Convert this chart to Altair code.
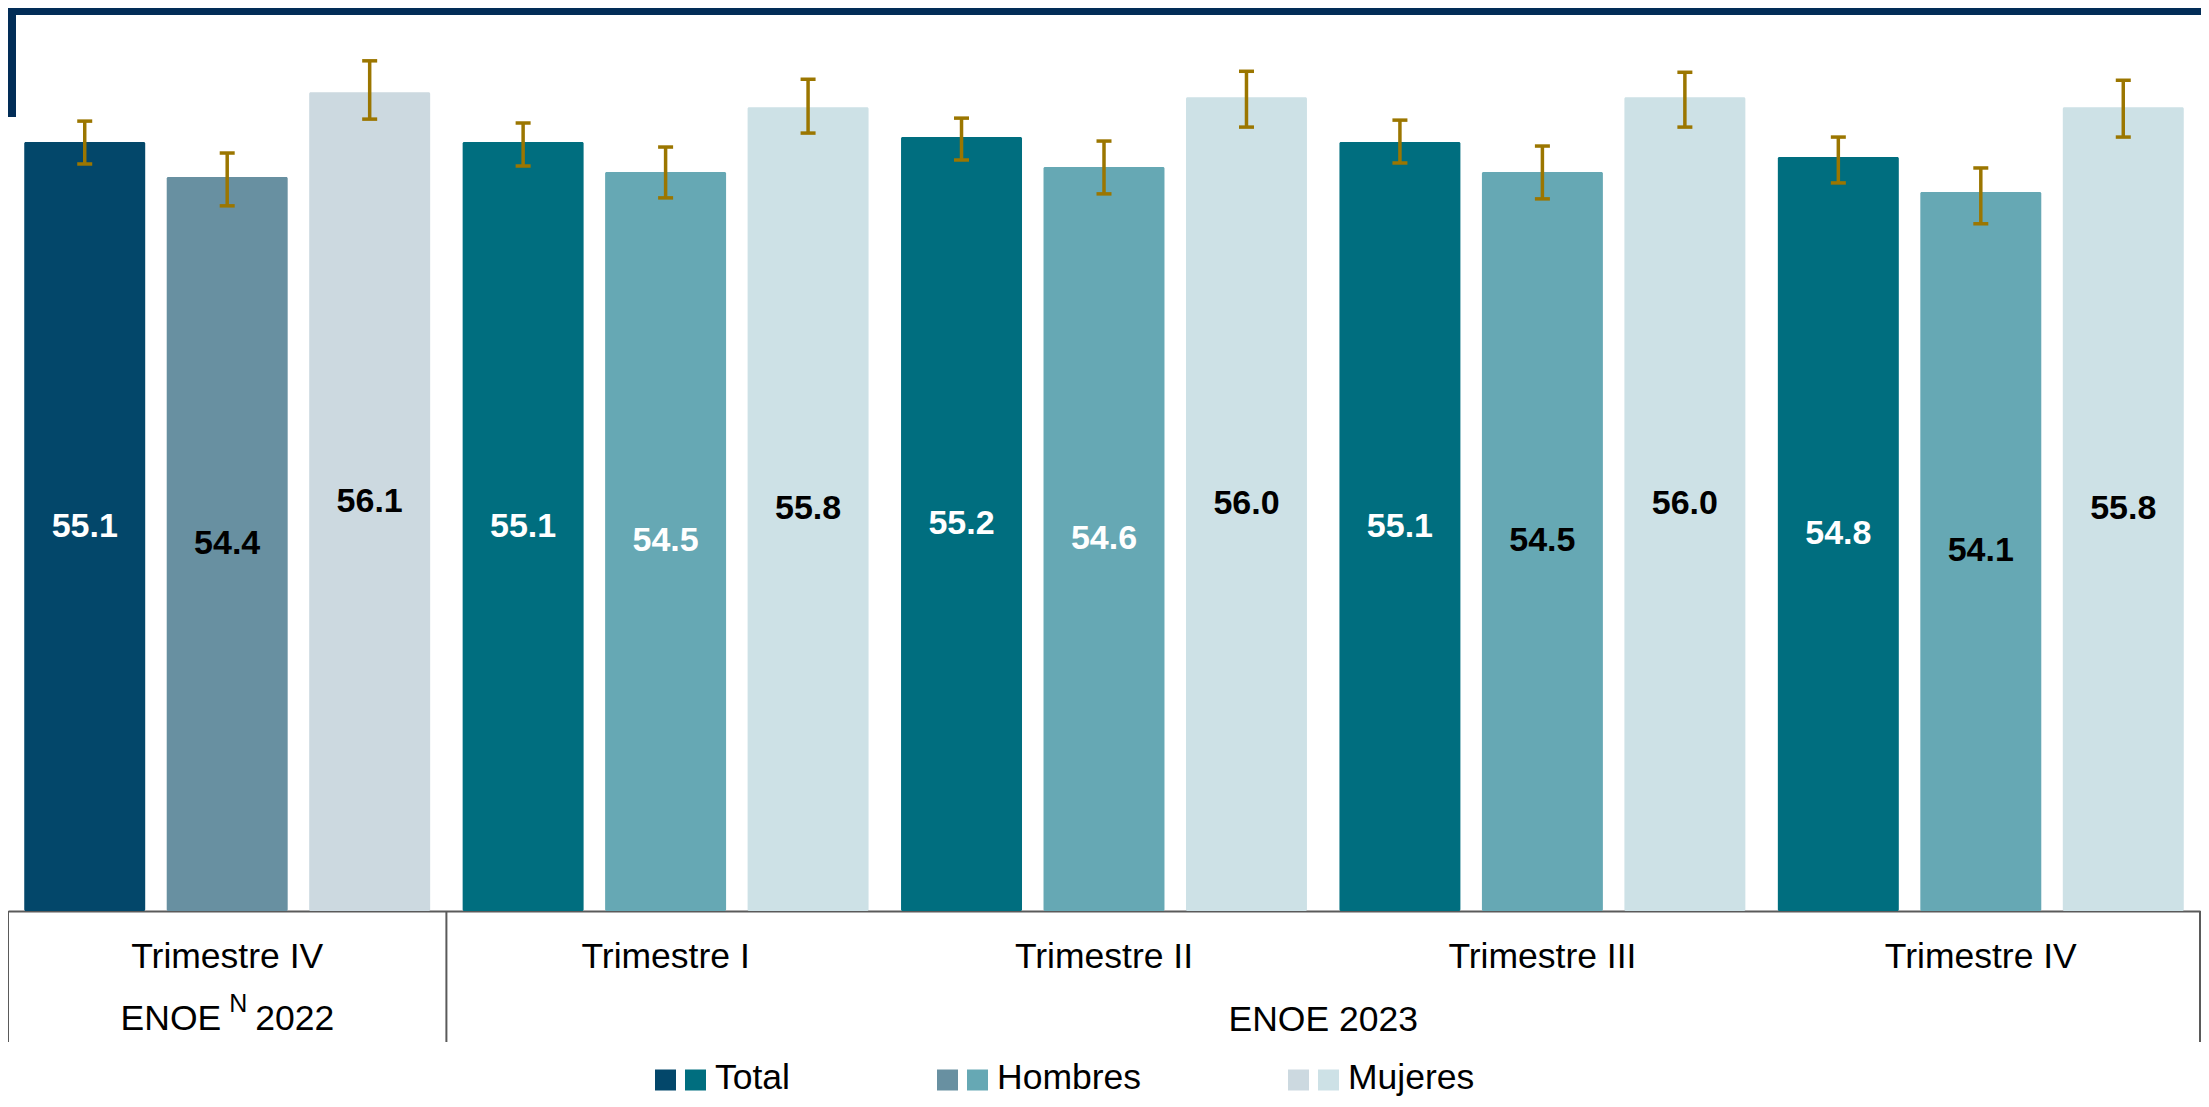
import altair as alt
import pandas as pd

# ---- data ----
groups = ["2022|Trimestre IV", "2023|Trimestre I", "2023|Trimestre II",
          "2023|Trimestre III", "2023|Trimestre IV"]
series = ["Total", "Hombres", "Mujeres"]

total = [55.1, 55.1, 55.2, 55.1, 54.8]
hombres = [54.4, 54.5, 54.6, 54.5, 54.1]
mujeres = [56.1, 55.8, 56.0, 56.0, 55.8]

total_lo = [54.66, 54.62, 54.74, 54.68, 54.28]
total_hi = [55.52, 55.48, 55.58, 55.54, 55.20]
hombres_lo = [53.82, 53.98, 54.06, 53.96, 53.46]
hombres_hi = [54.88, 55.00, 55.12, 55.02, 54.58]
mujeres_lo = [55.56, 55.28, 55.40, 55.40, 55.20]
mujeres_hi = [56.73, 56.36, 56.52, 56.50, 56.34]

# ---- styles ----
label_colors = {
    "Total": ["white", "white", "white", "white", "white"],
    "Hombres": ["black", "white", "white", "black", "black"],
    "Mujeres": ["black", "black", "black", "black", "black"],
}
color_keys = ["2022 Total", "2022 Hombres", "2022 Mujeres",
              "2023 Total", "2023 Hombres", "2023 Mujeres"]
color_vals = ["#03476A", "#6890A1", "#CCD9E0", "#006E7F", "#66A8B4", "#CDE1E6"]
ERR = "#9B7600"
LINE = "#5a5a5a"
NAVY = "#022D57"
FONT = "Liberation Sans"

BASE = 39.67
TOP = 57.79
W = 2192
H = 903

vals = {"Total": (total, total_lo, total_hi),
        "Hombres": (hombres, hombres_lo, hombres_hi),
        "Mujeres": (mujeres, mujeres_lo, mujeres_hi)}
rows = []
for i, g in enumerate(groups):
    year = g.split("|")[0]
    for s in series:
        v, lo, hi = vals[s]
        rows.append(dict(grp=g, ser=s, key=f"{year} {s}", v=v[i], lo=lo[i],
                         hi=hi[i], tc=label_colors[s][i]))
df = pd.DataFrame(rows)

xscale = alt.Scale(domain=groups, paddingInner=0, paddingOuter=0)
XAXIS = alt.Axis(title=None, labelExpr="split(datum.label, '|')[1]",
                 ticks=False, tickSize=0, labelPadding=56, labelLimit=600,
                 labelBaseline="alphabetic", labelFontSize=35.5,
                 labelFont=FONT, labelColor="black", labelAngle=0,
                 domainColor=LINE, domainWidth=2, grid=False)
xoff = alt.XOffset("ser:N", sort=series,
                   scale=alt.Scale(domain=series, paddingInner=0.151, paddingOuter=0.114))
yscale = alt.Scale(domain=[BASE, TOP], zero=False, nice=False)


def xg(**kw):
    return alt.X("grp:N", sort=groups, scale=xscale, axis=XAXIS, **kw)


base = alt.Chart(df)

bars = base.mark_bar(cornerRadius=1.5).encode(
    x=xg(),
    xOffset=xoff,
    y=alt.Y("v:Q", scale=yscale, axis=None),
    y2=alt.datum(BASE),
    color=alt.Color("key:N", scale=alt.Scale(domain=color_keys, range=color_vals), legend=None),
)

err = base.mark_rule(color=ERR, strokeWidth=3.5).encode(
    x=xg(), xOffset=xoff, y=alt.Y("lo:Q", scale=yscale, axis=None), y2="hi:Q")
cap_lo = base.mark_tick(color=ERR, thickness=3.5, size=15, opacity=1).encode(
    x=xg(), xOffset=xoff, y=alt.Y("lo:Q", scale=yscale, axis=None))
cap_hi = base.mark_tick(color=ERR, thickness=3.5, size=15, opacity=1).encode(
    x=xg(), xOffset=xoff, y=alt.Y("hi:Q", scale=yscale, axis=None))

labels = base.transform_calculate(mid=f"(datum.v + {BASE}) / 2").mark_text(
    font=FONT, fontSize=34, fontWeight="bold", baseline="middle", align="center"
).encode(
    x=xg(), xOffset=xoff, y=alt.Y("mid:Q", scale=yscale, axis=None),
    text=alt.Text("v:Q", format=".1f"),
    color=alt.Color("tc:N", scale=None),
)

# separators below the axis
sep_start = alt.Chart(pd.DataFrame({"grp": [groups[0], groups[1]]})).mark_rule(
    color=LINE, strokeWidth=2).encode(
    x=xg(bandPosition=0), y=alt.value(H), y2=alt.value(H + 131))
sep_end = alt.Chart(pd.DataFrame({"grp": [groups[4]]})).mark_rule(
    color=LINE, strokeWidth=2).encode(
    x=xg(bandPosition=1), y=alt.value(H), y2=alt.value(H + 131))

g0 = alt.Chart(pd.DataFrame({"grp": [groups[0]]}))
txt = dict(font=FONT, fontSize=35.5, color="black", baseline="alphabetic")
enoe22a = g0.mark_text(text="ENOE", align="right", dx=-6, **txt).encode(
    x=xg(), y=alt.value(H + 119))
enoe22n = g0.mark_text(text="N", align="left", dx=2, font=FONT, fontSize=25,
                       color="black", baseline="alphabetic").encode(
    x=xg(), y=alt.value(H + 101))
enoe22b = g0.mark_text(text="2022", align="left", dx=28, **txt).encode(
    x=xg(), y=alt.value(H + 119))
enoe23 = alt.Chart(pd.DataFrame({"grp": [groups[3]]})).mark_text(
    text="ENOE 2023", align="center", **txt).encode(
    x=xg(bandPosition=0), y=alt.value(H + 120))

# decorative frame in the corner
one = alt.Chart(pd.DataFrame({"a": [0]}))
band_top = one.mark_rect(color=NAVY).encode(
    x=alt.value(0), x2=alt.value(W + 1), y=alt.value(0), y2=alt.value(7))
band_left = one.mark_rect(color=NAVY).encode(
    x=alt.value(0), x2=alt.value(8), y=alt.value(0), y2=alt.value(109))

# custom legend
legend_items = [("Total", color_vals[0], color_vals[3], 657.5),
                ("Hombres", color_vals[1], color_vals[4], 939.5),
                ("Mujeres", color_vals[2], color_vals[5], 1290.5)]
leg_layers = []
LY = 1072
for name, c1, c2, x0 in legend_items:
    leg_layers.append(one.mark_square(size=441, opacity=1, color=c1).encode(
        x=alt.value(x0), y=alt.value(LY)))
    leg_layers.append(one.mark_square(size=441, opacity=1, color=c2).encode(
        x=alt.value(x0 + 30), y=alt.value(LY)))
    leg_layers.append(one.mark_text(text=name, align="left", font=FONT, fontSize=35.5,
                                    color="black", baseline="alphabetic").encode(
        x=alt.value(x0 + 49.5), y=alt.value(LY + 9)))

chart = alt.layer(
    bars, err, cap_lo, cap_hi, labels, sep_start, sep_end,
    enoe22a, enoe22n, enoe22b, enoe23, band_top, band_left, *leg_layers
).properties(
    width=W, height=H,
    autosize=alt.AutoSizeParams(type="none"),
    padding={"left": 0, "top": 0, "right": 1, "bottom": 188},
).configure_view(stroke=None)

chart.save("out.html", embed_options={"renderer": "svg", "actions": False})
